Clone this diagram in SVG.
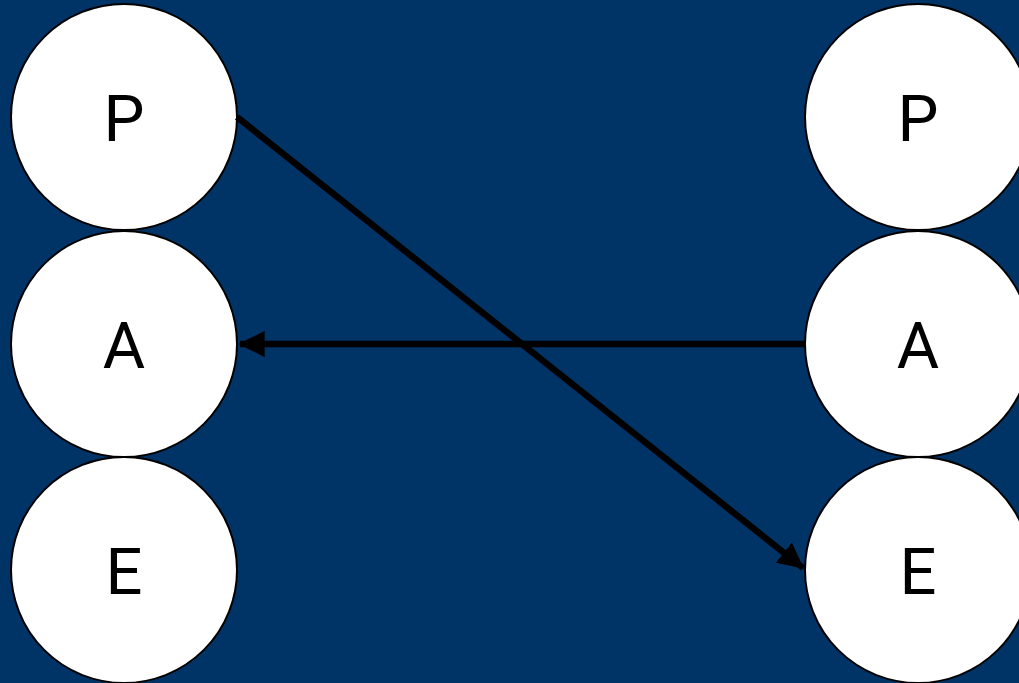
<svg xmlns="http://www.w3.org/2000/svg" width="1019" height="683" viewBox="0 0 1019 683">
<style>
.node circle{fill:#ffffff;stroke:#000000;stroke-width:2}
.node text{font-family:Roboto,"Liberation Sans",Arial,sans-serif;font-weight:400;font-size:65px;fill:#000000;text-anchor:middle}
.edge{stroke:#000000;stroke-width:6.5;fill:none;marker-end:url(#ah)}
</style>
<defs>
<marker id="ah" markerWidth="4" markerHeight="4" refX="3.8" refY="2" orient="auto" markerUnits="strokeWidth" viewBox="0 0 4 4">
<path d="M0,0 L4,2 L0,4 Z" fill="#000000"/>
</marker>
</defs>
<rect width="1019" height="683" fill="#003366"/>
<g id="left-P" class="node"><circle cx="124" cy="117" r="113"/><text x="124" y="141">P</text></g>
<g id="left-A" class="node"><circle cx="124" cy="344" r="113"/><text x="124" y="368">A</text></g>
<g id="left-E" class="node"><circle cx="124" cy="570" r="113"/><text x="124" y="594">E</text></g>
<g id="right-P" class="node"><circle cx="918" cy="117" r="113"/><text x="918" y="141">P</text></g>
<g id="right-A" class="node"><circle cx="918" cy="344" r="113"/><text x="918" y="368">A</text></g>
<g id="right-E" class="node"><circle cx="918" cy="570" r="113"/><text x="918" y="594">E</text></g>
<g id="connectors">
<line class="edge" x1="237" y1="117" x2="803" y2="568"/>
<line class="edge" x1="805" y1="344" x2="240" y2="344"/>
</g>
</svg>
